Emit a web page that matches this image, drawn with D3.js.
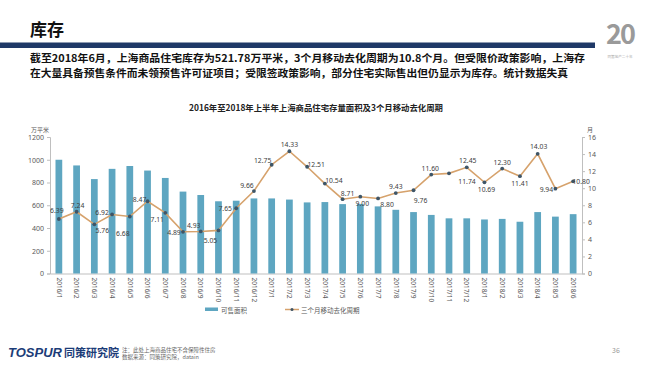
<!DOCTYPE html>
<html><head><meta charset="utf-8">
<script src="https://cdn.jsdelivr.net/npm/d3@7"></script>
<style>
html,body{margin:0;padding:0;background:#fff;}
svg{display:block;font-family:"Noto Sans CJK SC","Noto Sans",sans-serif;}
</style></head>
<body><svg id="c" width="650" height="365"></svg>
<script>
const categories = ["2016/1","2016/2","2016/3","2016/4","2016/5","2016/6","2016/7","2016/8","2016/9","2016/10","2016/11","2016/12",
  "2017/1","2017/2","2017/3","2017/4","2017/5","2017/6","2017/7","2017/8","2017/9","2017/10","2017/11","2017/12",
  "2018/1","2018/2","2018/3","2018/4","2018/5","2018/6"];
const inventory = [1000,950,830,920,945,905,840,720,690,635,640,660,660,650,625,628,610,612,590,560,540,515,485,485,475,480,455,540,500,521.78];
const cycle = [6.39,7.24,5.76,6.92,6.68,8.47,7.11,4.89,4.93,5.05,7.65,9.66,12.75,14.33,12.51,10.54,8.71,9.00,8.80,9.43,9.76,11.60,11.74,12.45,10.69,12.30,11.41,14.03,9.94,10.80];
const leftTicks = [0,200,400,600,800,1000,1200];
const rightTicks = [0,2,4,6,8,10,12,14,16];
const seriesNames = ["可售面积","三个月移动去化周期"];
// label placement offsets (style)
const labelDx = [-2,1,8,-10,-7,-8,-8,-9,-7,-8,-11,-7,-9,0,9,9,5,2,9,0,7,-1,18,1,2,0,0,1,-9,8];
const labelDy = [-8,-6,6,-2,17,-2,7,1,-6,10,0,-6,-4,-7,-2,-3,-6,7,6,-7,10,-6,8,-7,7,-6,7,-7,1,0];

const svg = d3.select("#c");
const pL = 50, pR = 582, pT = 137, pB = 273.5;

// header
svg.append("text").attr("x",30).attr("y",35.5).attr("font-size",17).attr("font-weight","bold").attr("fill","#111").text("库存");
svg.append("rect").attr("x",0).attr("y",42.5).attr("width",595).attr("height",5.5).attr("fill","#1F3967");
svg.append("text").attr("x",30).attr("y",57.8).attr("dominant-baseline","central").attr("font-size",10).attr("font-weight","bold").attr("fill","#111")
  .attr("textLength",555).attr("lengthAdjust","spacingAndGlyphs")
  .text("截至2018年6月，上海商品住宅库存为521.78万平米，3个月移动去化周期为10.8个月。但受限价政策影响，上海存");
svg.append("text").attr("x",30).attr("y",72.5).attr("dominant-baseline","central").attr("font-size",10).attr("font-weight","bold").attr("fill","#111")
  .attr("textLength",538).attr("lengthAdjust","spacingAndGlyphs")
  .text("在大量具备预售条件而未领预售许可证项目；受限签政策影响，部分住宅实际售出但仍显示为库存。统计数据失真");
// logo 20
svg.append("text").attr("x",620).attr("y",44).attr("text-anchor","middle").attr("font-size",27).attr("font-weight","bold")
  .attr("fill","#9A9A9A").attr("letter-spacing","-2").text("20");
svg.append("text").attr("x",620).attr("y",58).attr("text-anchor","middle").attr("font-size",3.6).attr("fill","#AAA").text("同策地产二十年");

// chart title
svg.append("text").attr("x",316).attr("y",107).attr("dominant-baseline","central").attr("text-anchor","middle")
  .attr("font-size",8.4).attr("font-weight","bold").attr("fill","#222")
  .text("2016年至2018年上半年上海商品住宅存量面积及3个月移动去化周期");

const x = d3.scaleBand().domain(categories).range([pL,pR]).paddingInner(0.62).paddingOuter(0.31);
const yL = d3.scaleLinear().domain([0,1200]).range([pB,pT]);
const yR = d3.scaleLinear().domain([0,16]).range([pB,pT]);

const axisColor = "#BFBFBF", tickText = "#595959";
function styleAxis(g){
  g.selectAll("path,line").attr("stroke",axisColor);
  g.selectAll("text").attr("fill",tickText).attr("font-size",7).attr("font-family","'Noto Sans','Noto Sans CJK SC',sans-serif");
}
svg.append("g").attr("transform",`translate(${pL},0)`)
  .call(d3.axisLeft(yL).tickValues(leftTicks).tickFormat(d3.format("d")).tickSize(3).tickSizeOuter(3).tickPadding(3)).call(styleAxis);
svg.append("g").attr("transform",`translate(${pR},0)`)
  .call(d3.axisRight(yR).tickValues(rightTicks).tickFormat(d3.format("d")).tickSize(3).tickSizeOuter(3).tickPadding(3)).call(styleAxis);
const xg = svg.append("g").attr("transform",`translate(0,${pB})`)
  .call(d3.axisBottom(x).tickSize(0).tickSizeOuter(0).tickPadding(4));
xg.select("path").attr("stroke",axisColor);
xg.selectAll("text").attr("fill",tickText).attr("font-size",6.5).attr("font-family","'Noto Sans',sans-serif")
  .attr("transform","rotate(90)").attr("text-anchor","start").attr("dy","0.35em").attr("x",4).attr("y",0);

// unit labels
svg.append("text").attr("x",40).attr("y",129).attr("text-anchor","middle").attr("dominant-baseline","central")
  .attr("font-size",6).attr("fill",tickText).text("万平米");
svg.append("text").attr("x",590).attr("y",129).attr("text-anchor","middle").attr("dominant-baseline","central")
  .attr("font-size",6).attr("fill",tickText).text("月");

// bars
const barColor = "#5EA6C1";
svg.append("g").selectAll("rect").data(inventory).join("rect")
  .attr("x",(d,i)=>x(categories[i])).attr("width",x.bandwidth())
  .attr("y",d=>yL(d)).attr("height",d=>pB-yL(d)).attr("fill",barColor);

// line
const lineColor = "#D6A26C", markerColor = "#3E5567";
const cx = i => x(categories[i]) + x.bandwidth()/2;
svg.append("path").datum(cycle)
  .attr("d",d3.line().x((d,i)=>cx(i)).y(d=>yR(d)))
  .attr("fill","none").attr("stroke",lineColor).attr("stroke-width",1.6);
svg.append("g").selectAll("circle").data(cycle).join("circle")
  .attr("cx",(d,i)=>cx(i)).attr("cy",d=>yR(d)).attr("r",1.9).attr("fill",markerColor);
svg.append("g").selectAll("text").data(cycle).join("text")
  .attr("x",(d,i)=>cx(i)+labelDx[i]).attr("y",(d,i)=>yR(d)+labelDy[i])
  .attr("text-anchor","middle").attr("dominant-baseline","central")
  .attr("font-size",6.8).attr("fill","#404040").attr("font-family","'Noto Sans',sans-serif")
  .text(d=>d3.format(".2f")(d));

// legend
const lg = svg.append("g");
lg.append("rect").attr("x",205).attr("y",307.5).attr("width",13).attr("height",3.5).attr("fill",barColor);
lg.append("text").attr("x",221).attr("y",309.5).attr("dominant-baseline","central").attr("font-size",6.5).attr("fill",tickText).text(seriesNames[0]);
lg.append("line").attr("x1",285).attr("x2",299).attr("y1",309.5).attr("y2",309.5).attr("stroke",lineColor).attr("stroke-width",1.5);
lg.append("circle").attr("cx",292).attr("cy",309.5).attr("r",1.5).attr("fill",markerColor);
lg.append("text").attr("x",301).attr("y",309.5).attr("dominant-baseline","central").attr("font-size",6.5).attr("fill",tickText).text(seriesNames[1]);

// footer
svg.append("text").attr("x",8).attr("y",357).attr("font-size",13).attr("font-weight","bold").attr("font-style","italic")
  .attr("fill","#1C3C78").attr("font-family","'Liberation Sans',Arial,sans-serif").text("TOSPUR");
svg.append("text").attr("x",64).attr("y",357).attr("font-size",11).attr("font-weight","bold")
  .attr("fill","#1C3C78").text("同策研究院");
svg.append("text").attr("x",122).attr("y",350).attr("dominant-baseline","central").attr("font-size",5.5).attr("fill","#666").text("注：此处上海商品住宅不含保障性住房");
svg.append("text").attr("x",122).attr("y",356.5).attr("dominant-baseline","central").attr("font-size",5.5).attr("fill","#666").text("数据来源：同策研究院，datain");
svg.append("text").attr("x",612).attr("y",350).attr("dominant-baseline","central").attr("font-size",7).attr("fill","#999").text("36");
</script></body></html>
